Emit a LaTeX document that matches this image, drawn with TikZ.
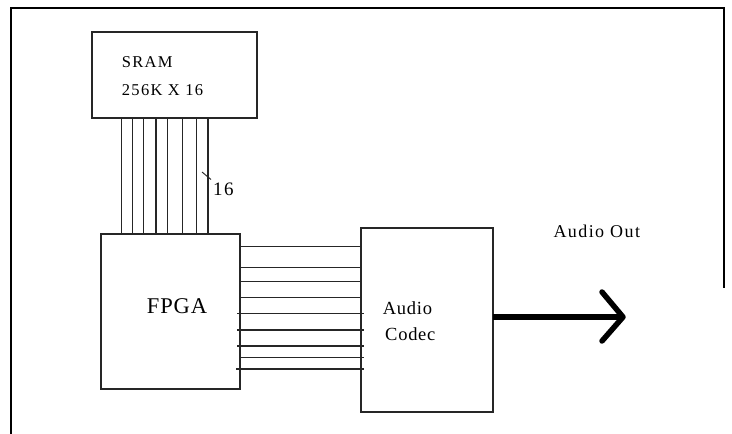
\documentclass[tikz,border=0pt]{standalone}
\usepackage{fontspec}
\setmainfont{Liberation Serif}
\newfontfamily\sramfont[LetterSpace=8]{Liberation Serif}
\newfontfamily\bigfont[LetterSpace=4]{Liberation Serif}
\newfontfamily\outfont[LetterSpace=8]{Liberation Serif}
\begin{document}
\begin{tikzpicture}[x=1pt,y=-1pt,
  box/.style={draw=black!85, line width=1.2pt, inner sep=0pt, outer sep=0pt, anchor=north west},
  wire/.style={draw=black!85, line width=1.1pt},
  lbl/.style={inner sep=0pt, anchor=base west},
  framestyle/.style={draw=black, line width=2.4pt},
  fat/.style={draw=black, line width=5.5pt}]
\useasboundingbox (0,0) rectangle (732,434);
% frame
\draw[framestyle] (11,434) -- (11,8) -- (724,8) -- (724,288);
% boxes
\node[box, minimum width=165pt, minimum height=86pt] (sram) at (92,32) {};
\node[box, minimum width=139pt, minimum height=155pt] (fpga) at (101,234) {};
\node[box, minimum width=132pt, minimum height=184pt] (codec) at (361,228) {};
% labels
\node[lbl, font=\sramfont\fontsize{16.5}{19}\selectfont] (t1) at (121.7,67.3) {SRAM};
\node[lbl, font=\sramfont\fontsize{16.5}{19}\selectfont] (t2) at (121.7,95) {256K X 16};
\node[lbl, font=\outfont\fontsize{19}{21}\selectfont] (t16) at (213,195) {16};
\node[lbl, font=\bigfont\fontsize{22.5}{24}\selectfont] (tf) at (146.7,313.3) {FPGA};
\node[lbl, font=\bigfont\fontsize{18.5}{20}\selectfont] (ta) at (382.7,314) {Audio};
\node[lbl, font=\bigfont\fontsize{18.5}{20}\selectfont] (tc) at (385,340.7) {Codec};
\node[lbl, font=\outfont\fontsize{18}{20}\selectfont] (tout) at (553.3,237.3) {Audio Out};
% vertical bus SRAM -> FPGA
\foreach \x in {121.7,132.7,143.3,156,167.7,182.3,196.7,208}
  \draw[wire] (\x,0 |- sram.south) -- (\x,0 |- fpga.north);
% bus width tick
\draw[wire, line width=0.9pt] (202,172) -- (211,179.5);
% horizontal bus FPGA -> Codec
\foreach \y/\a/\b in {246.7/0/0, 267.3/0/0, 281.3/0/0, 297.3/0/0, 313.3/-3/2.5, 330/-3/2.5, 346/-3/2.5, 357.3/0/2.5, 369/-4/2.5}
  \draw[wire] (fpga.east |- 0,\y) ++(\a,0) -- (codec.west |- 0,\y) -- ++(\b,0);
% audio out arrow
\coordinate (tip) at (623,317);
\draw[fat] (codec.east |- tip) -- (tip);
\draw[fat, line cap=round, line join=round] (602,292) -- (tip) -- (602,341);
\end{tikzpicture}
\end{document}
